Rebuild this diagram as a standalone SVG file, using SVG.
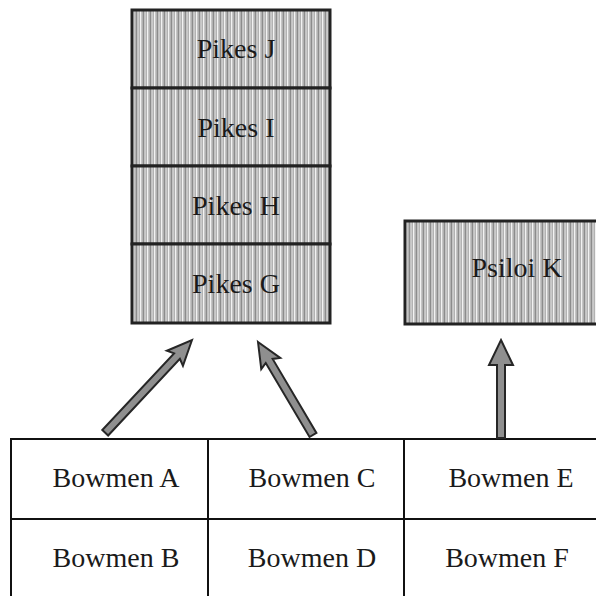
<svg xmlns="http://www.w3.org/2000/svg" width="596" height="596" viewBox="0 0 596 596">
<style>
.lbl{font-family:"Liberation Serif","Times New Roman",serif;font-size:28px;fill:#1a1a1a;text-anchor:middle}
.hatch{fill:url(#vstripe);stroke:#222;stroke-width:3}
.cell{fill:#fff;stroke:#111;stroke-width:2}
.arr{fill:#8f8f8f;stroke:#262626;stroke-width:2;stroke-linejoin:miter}
</style>
<defs>
<pattern id="vstripe" patternUnits="userSpaceOnUse" width="7" height="40">
<rect width="7" height="40" fill="#b2b2b2"/>
<rect x="0" width="1.3" height="40" fill="#f2f2f2"/>
<rect x="3" width="1" height="40" fill="#8c8c8c"/>
<rect x="4.6" width="1" height="40" fill="#dadada"/>
</pattern>
</defs>
<rect width="596" height="596" fill="#fff"/>
<g id="pikes-j"><rect class="hatch" x="132" y="10" width="198" height="78"/><text class="lbl" x="236" y="58">Pikes J</text></g>
<g id="pikes-i"><rect class="hatch" x="132" y="88" width="198" height="78"/><text class="lbl" x="236" y="137">Pikes I</text></g>
<g id="pikes-h"><rect class="hatch" x="132" y="166" width="198" height="78"/><text class="lbl" x="236" y="215">Pikes H</text></g>
<g id="pikes-g"><rect class="hatch" x="132" y="244" width="198" height="79"/><text class="lbl" x="236" y="293">Pikes G</text></g>
<g id="psiloi-k"><rect class="hatch" x="405" y="221" width="210" height="103"/><text class="lbl" x="517" y="277">Psiloi K</text></g>
<g id="bowmen-a"><rect class="cell" x="11" y="439" width="197" height="80"/><text class="lbl" x="116" y="487">Bowmen A</text></g>
<g id="bowmen-b"><rect class="cell" x="11" y="519" width="197" height="100"/><text class="lbl" x="116" y="567">Bowmen B</text></g>
<g id="bowmen-c"><rect class="cell" x="208" y="439" width="196" height="80"/><text class="lbl" x="312" y="487">Bowmen C</text></g>
<g id="bowmen-d"><rect class="cell" x="208" y="519" width="196" height="100"/><text class="lbl" x="312" y="567">Bowmen D</text></g>
<g id="bowmen-e"><rect class="cell" x="404" y="439" width="220" height="80"/><text class="lbl" x="511" y="487">Bowmen E</text></g>
<g id="bowmen-f"><rect class="cell" x="404" y="519" width="220" height="100"/><text class="lbl" x="507" y="567">Bowmen F</text></g>
<g id="connectors">
<polygon class="arr" transform="translate(192 340) rotate(43.1)" points="0,0 11,25 4,22 4,127 -4,127 -4,22 -11,25"/>
<polygon class="arr" transform="translate(258 342) rotate(-30.6)" points="0,0 11,25 4,22 4,108 -4,108 -4,22 -11,25"/>
<polygon class="arr" transform="translate(501 340)" points="0,0 12,25 4,25 4,98 -4,98 -4,25 -12,25"/>
</g>
</svg>
